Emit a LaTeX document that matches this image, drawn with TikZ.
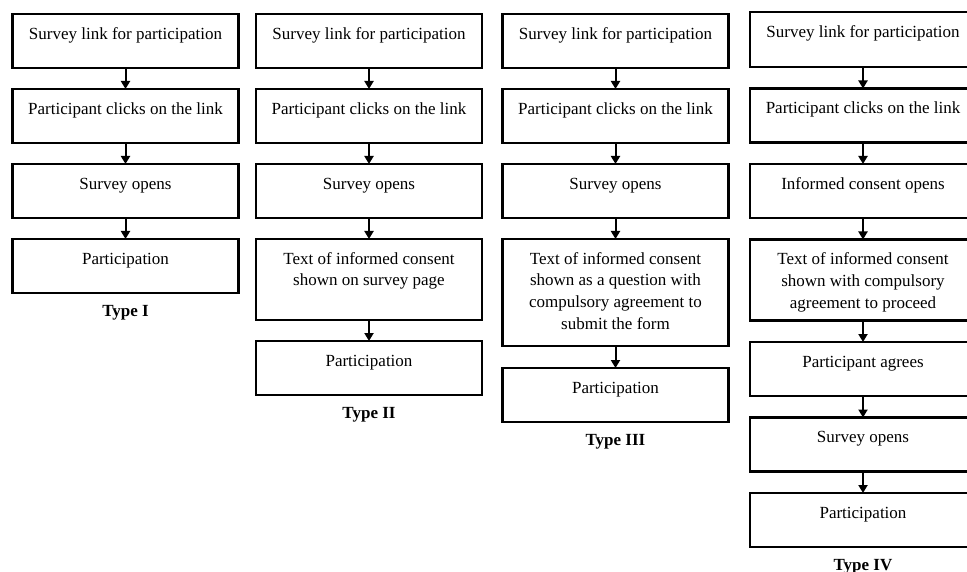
\documentclass[tikz,border=0pt]{standalone}
\usepackage{fontspec}
\setmainfont{Liberation Serif}
\usetikzlibrary{arrows.meta,positioning}
\def \steptext #1#2{\parbox[t][#1][t]{200pt}{\centering\strut #2}}

\begin{document}
\begin{tikzpicture}[font=\fontsize{17pt}{21.7pt}\selectfont]
\tikzstyle{arrow}=[-{Triangle[length=8pt,width=9pt]},line width=2pt];
\tikzstyle{stepbox}=[draw,line width=2.2pt,outer sep=0pt,minimum width=226pt,inner xsep=0pt,inner ysep=10pt];
\tikzstyle{typelabel}=[font=\fontsize{17pt}{21.7pt}\selectfont\bfseries,inner sep=0pt];
\useasboundingbox (0,0) rectangle (967pt,-572pt);
\node (a1) [stepbox,anchor=north] at (125.5pt,-14pt) {\steptext{34pt}{Survey link for participation}};
\node (a2) [stepbox,below=21pt of a1] {\steptext{34pt}{Participant clicks on the link}};
\node (a3) [stepbox,below=21pt of a2] {\steptext{34pt}{Survey opens}};
\node (a4) [stepbox,below=21pt of a3] {\steptext{34pt}{Participation}};
\node (ta) [typelabel,below=12.5pt of a4] {Type I};
\node (b1) [stepbox,anchor=north] at (369pt,-14pt) {\steptext{34pt}{Survey link for participation}};
\node (b2) [stepbox,below=21pt of b1] {\steptext{34pt}{Participant clicks on the link}};
\node (b3) [stepbox,below=21pt of b2] {\steptext{34pt}{Survey opens}};
\node (b4) [stepbox,below=21pt of b3] {\steptext{61pt}{Text of informed consent\\ shown on survey page}};
\node (b5) [stepbox,below=21pt of b4] {\steptext{34pt}{Participation}};
\node (tb) [typelabel,below=12.5pt of b5] {Type II};
\node (c1) [stepbox,anchor=north] at (615.5pt,-14pt) {\steptext{34pt}{Survey link for participation}};
\node (c2) [stepbox,below=21pt of c1] {\steptext{34pt}{Participant clicks on the link}};
\node (c3) [stepbox,below=21pt of c2] {\steptext{34pt}{Survey opens}};
\node (c4) [stepbox,below=21pt of c3] {\steptext{87pt}{Text of informed consent\\ shown as a question with\\ compulsory agreement to\\ submit the form}};
\node (c5) [stepbox,below=22pt of c4] {\steptext{34pt}{Participation}};
\node (tc) [typelabel,below=12.5pt of c5] {Type III};
\node (d1) [stepbox,anchor=north] at (863pt,-12pt) {\steptext{35pt}{Survey link for participation}};
\node (d2) [stepbox,below=21.5pt of d1] {\steptext{34pt}{Participant clicks on the link}};
\node (d3) [stepbox,below=21.5pt of d2] {\steptext{34pt}{Informed consent opens}};
\node (d4) [stepbox,below=21.5pt of d3] {\steptext{61pt}{Text of informed consent\\ shown with compulsory\\ agreement to proceed}};
\node (d5) [stepbox,below=21.5pt of d4] {\steptext{34pt}{Participant agrees}};
\node (d6) [stepbox,below=21.5pt of d5] {\steptext{34pt}{Survey opens}};
\node (d7) [stepbox,below=21.5pt of d6] {\steptext{34pt}{Participation}};
\node (td) [typelabel,below=12.5pt of d7] {Type IV};
\draw [arrow] (a1) -- (a2);
\draw [arrow] (a2) -- (a3);
\draw [arrow] (a3) -- (a4);
\draw [arrow] (b1) -- (b2);
\draw [arrow] (b2) -- (b3);
\draw [arrow] (b3) -- (b4);
\draw [arrow] (b4) -- (b5);
\draw [arrow] (c1) -- (c2);
\draw [arrow] (c2) -- (c3);
\draw [arrow] (c3) -- (c4);
\draw [arrow] (c4) -- (c5);
\draw [arrow] (d1) -- (d2);
\draw [arrow] (d2) -- (d3);
\draw [arrow] (d3) -- (d4);
\draw [arrow] (d4) -- (d5);
\draw [arrow] (d5) -- (d6);
\draw [arrow] (d6) -- (d7);
\end{tikzpicture}
\end{document}
